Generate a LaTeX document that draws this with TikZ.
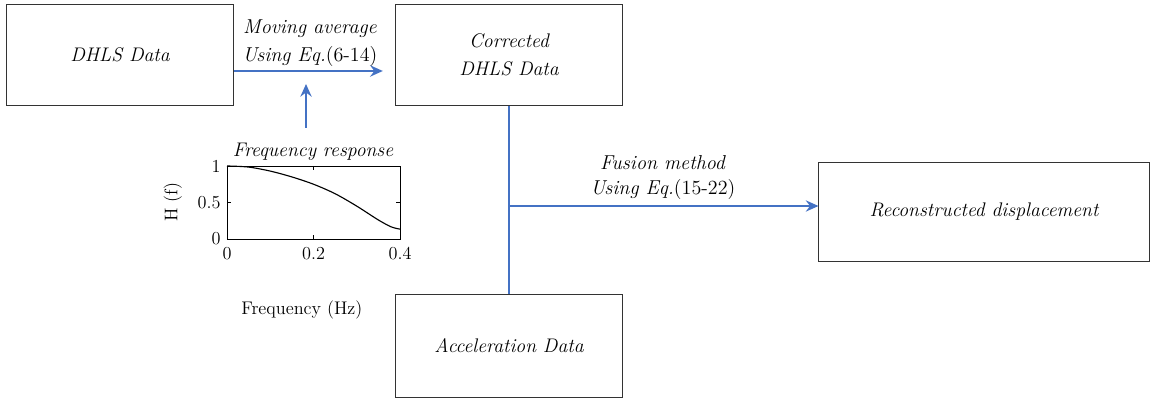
\documentclass[tikz,border=0pt]{standalone}
\usetikzlibrary{arrows.meta}
\definecolor{flowblue}{RGB}{68,114,196}
\begin{document}
\begin{tikzpicture}[x=0.025cm,y=-0.025cm,font=\fontsize{13}{19}\selectfont,
	blk/.style={draw=black!80,line width=0.7pt,align=center,font=\fontsize{14}{20}\selectfont\itshape},
	lbl/.style={font=\fontsize{14.3}{20}\selectfont},
	flow/.style={draw=flowblue,line width=1.6pt,-{Stealth[length=9pt,width=8pt,inset=3pt]}}]
	\useasboundingbox (0,0) rectangle (1151,398);
	% blocks
	\node[blk,minimum width=5.65cm,minimum height=2.52cm] (dhls) at (120,55) {DHLS Data};
	\node[blk,minimum width=5.65cm,minimum height=2.52cm] (corr) at (509,55) {Corrected\\DHLS Data};
	\node[blk,minimum width=5.65cm,minimum height=2.55cm] (acc) at (509,346) {Acceleration Data};
	\node[blk,minimum width=8.25cm,minimum height=2.48cm] (rec) at (984,212) {Reconstructed displacement};
	\path (0,71) coordinate (mv)
		(509,206) coordinate (junc)
		(306,128) coordinate (fb);
	% connectors
	\draw[flow,shorten >=9pt] (dhls.east |- mv) -- (corr.west |- mv);
	\draw[flow] (fb) -- ++(0,-44);
	\draw[draw=flowblue,line width=1.6pt] (corr.south) -- (acc.north);
	\draw[flow] (junc) -- (junc -| rec.west);
	\node[lbl] (mlab) at (310,29) {\textit{Moving average}};
	\node[lbl] (ulab) at (310,56) {\textit{Using Eq.}(6-14)};
	\node[lbl] (flab) at (663,163) {\textit{Fusion method}};
	\node[lbl] (glab) at (663,189) {\textit{Using Eq.}(15-22)};
	% frequency response plot
	\begin{scope}[shift={(227,239)},x=10.8125cm,y=1.825cm,line width=0.6pt]
		\draw (0,0) rectangle (0.4,1);
		\draw (0.2,0)--(0.2,0.05) (0.2,1)--(0.2,0.95) (0,0.5)--(0.01,0.5) (0.4,0.5)--(0.39,0.5);
		\draw[line width=0.8pt] plot[smooth] coordinates {(0,1) (0.05,0.985) (0.1,0.93) (0.15,0.85)
			(0.2,0.75) (0.25,0.62) (0.3,0.45) (0.35,0.26) (0.38,0.165) (0.4,0.135)};
		\foreach \v/\t in {0/0,0.5/0.5,1/1}{
			\node[left=1pt] (yt\t) at (0,\v) {\t};
		}
		\foreach \u/\t in {0/0,0.2/0.2,0.4/0.4}{
			\node[below=2pt] (xt\t) at (\u,0) {\t};
		}
		\node (xl) at (0.173,-0.97) {Frequency (Hz)};
		\node[rotate=90] (yl) at (-0.125,0.51) {H (f)};
		\node[font=\fontsize{14}{18}\selectfont] (fr) at (0.199,1.19) {\textit{Frequency response}};
	\end{scope}
\end{tikzpicture}
\end{document}
